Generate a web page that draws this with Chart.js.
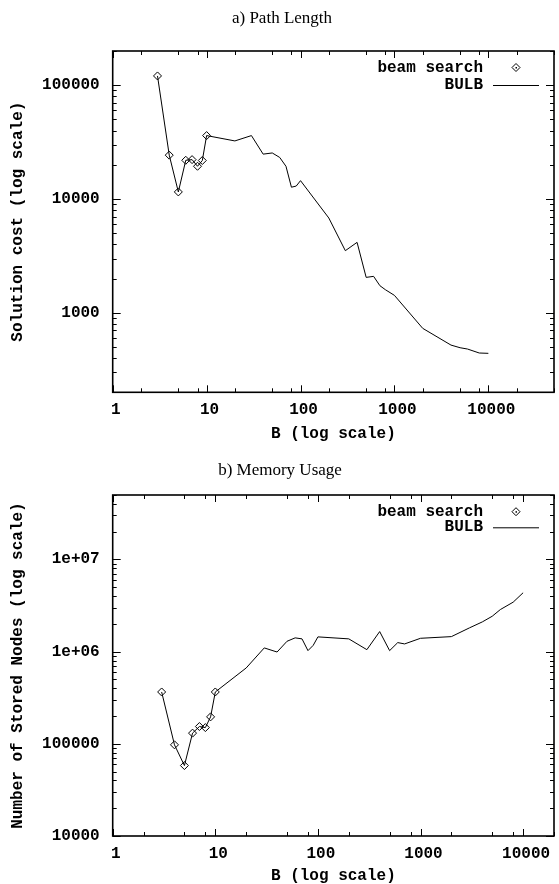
<!DOCTYPE html>
<html>
<head>
<meta charset="utf-8">
<script src="https://cdn.jsdelivr.net/npm/chart.js@4.4.0/dist/chart.umd.min.js"></script>
<style>
body { margin: 0; background: #fff; }
canvas { position: absolute; left: 0; }
</style>
</head>
<body>
<canvas id="pathChart" width="559" height="442" style="top:0px"></canvas>
<canvas id="memChart" width="559" height="442" style="top:442px"></canvas>
<script>
// beam search runs (B = 3..10)
var beamB = [3, 4, 5, 6, 7, 8, 9, 10]
var beamCost = [120700, 24300, 11540, 21900, 22200, 19400, 21800, 36100]
var beamNodes = [365000, 97500, 58100, 130600, 154000, 150000, 196000, 365000]

// BULB, path length
var bulbCostB = [3, 4, 5, 6, 7, 8, 9, 10, 20, 30, 40, 50, 60, 70, 80, 90, 100, 200, 300, 400, 500, 600, 700, 800, 1000, 2000, 4000, 5000, 6000, 8000, 10000]
var bulbCost = [120700, 24300, 11540, 21900, 22200, 19400, 21800, 36100, 32400, 36100, 24800, 25400, 23200, 19400, 12700, 13000, 14500, 6810, 3515, 4160, 2047, 2090, 1730, 1596, 1422, 730, 520, 493, 480, 443, 440]

// BULB, memory usage
var bulbNodesB = [3, 4, 5, 6, 7, 8, 9, 10, 20, 30, 40, 50, 60, 70, 80, 90, 100, 200, 300, 400, 500, 600, 700, 1000, 2000, 3000, 4000, 5000, 6000, 8000, 10000]
var bulbNodes = [365000, 97500, 58100, 130600, 154000, 150000, 196000, 365000, 665000, 1097000, 990000, 1295000, 1410000, 1375000, 1025000, 1170000, 1445000, 1375000, 1050000, 1650000, 1025000, 1253000, 1212000, 1395000, 1455000, 1810000, 2100000, 2420000, 2860000, 3440000, 4350000]

// tick labels
var xTicks = [1, 10, 100, 1000, 10000]
var xTickLabels = ['1', '10', '100', '1000', '10000']
var costTicks = [1000, 10000, 100000]
var costTickLabels = ['1000', '10000', '100000']
var nodeTicks = [10000, 100000, 1000000, 10000000]
var nodeTickLabels = ['10000', '100000', '1e+06', '1e+07']

var monoFont = { family: '"Liberation Mono", "Courier New", monospace', size: 16, weight: 'bold' }

function toPoints(xs, ys) {
    return xs.map(function (x, i) { return { x: x, y: ys[i] } })
}

// frame with inward ticks, title and legend like the gnuplot original
var gnuFrame = {
    id: 'gnuFrame',
    afterDraw: function (chart, args, opts) {
        var ctx = chart.ctx, a = chart.chartArea
        var xs = chart.scales.x, ys = chart.scales.y
        ctx.save()
        ctx.strokeStyle = '#000'
        ctx.lineWidth = 1
        ctx.beginPath()
        var e, m, v, p, len
        for (e = 0; e <= 5; e++) {
            for (m = 1; m <= 9; m++) {
                if (m != 1 && m != 2 && m != 5 && m != 8) continue
                v = m * Math.pow(10, e)
                if (v < xs.min || v > xs.max) continue
                p = Math.round(xs.getPixelForValue(v)) + 0.5
                len = m == 1 ? 7 : 4
                ctx.moveTo(p, a.bottom); ctx.lineTo(p, a.bottom - len)
                ctx.moveTo(p, a.top); ctx.lineTo(p, a.top + len)
            }
        }
        for (e = 2; e <= 8; e++) {
            for (m = 1; m <= 9; m++) {
                v = m * Math.pow(10, e)
                if (v < ys.min || v > ys.max) continue
                p = Math.round(ys.getPixelForValue(v)) + 0.5
                len = m == 1 ? 8 : 4
                ctx.moveTo(a.left, p); ctx.lineTo(a.left + len, p)
                ctx.moveTo(a.right, p); ctx.lineTo(a.right - len, p)
            }
        }
        ctx.stroke()
        ctx.lineWidth = 1.6
        ctx.strokeRect(a.left, a.top, a.right - a.left, a.bottom - a.top)

        // title
        ctx.fillStyle = '#000'
        ctx.font = '17px "Liberation Serif", "Times New Roman", serif'
        ctx.textAlign = 'center'
        ctx.textBaseline = 'alphabetic'
        ctx.fillText(opts.title, opts.titleX, opts.titleY)

        // legend
        ctx.font = 'bold 16px "Liberation Mono", "Courier New", monospace'
        ctx.textAlign = 'right'
        ctx.textBaseline = 'middle'
        var y1 = a.top + opts.legendY[0], y2 = a.top + opts.legendY[1]
        ctx.fillText('beam search', 483, y1)
        ctx.fillText('BULB', 483, y2)
        ctx.lineWidth = 1
        ctx.beginPath()
        ctx.moveTo(516, y1 - 4); ctx.lineTo(520, y1); ctx.lineTo(516, y1 + 4); ctx.lineTo(512, y1); ctx.closePath()
        ctx.stroke()
        ctx.fillRect(515.5, y1 - 0.5, 1.5, 1.5)
        ctx.beginPath()
        ctx.moveTo(493, y2 + 0.5); ctx.lineTo(539, y2 + 0.5)
        ctx.stroke()
        ctx.restore()
    }
}

function makeChart(id, beamY, bulbX, bulbY, cfg) {
    new Chart(document.getElementById(id), {
        type: 'line',
        data: {
            datasets: [
                {
                    label: 'beam search',
                    data: toPoints(beamB, beamY),
                    showLine: false,
                    pointStyle: 'rectRot',
                    pointRadius: 4,
                    pointBorderWidth: 1,
                    pointBorderColor: '#000',
                    pointBackgroundColor: 'rgba(0,0,0,0)'
                },
                {
                    label: 'BULB',
                    data: toPoints(bulbX, bulbY),
                    borderColor: '#000',
                    borderWidth: 1,
                    pointRadius: 0,
                    tension: 0
                }
            ]
        },
        options: {
            responsive: false,
            animation: false,
            layout: { padding: { top: cfg.top, right: cfg.right, bottom: 0, left: 0 } },
            plugins: {
                legend: { display: false },
                tooltip: { enabled: false },
                gnuFrame: { title: cfg.title, titleX: cfg.titleX, titleY: cfg.titleY, legendY: cfg.legendY }
            },
            scales: {
                x: {
                    type: 'logarithmic',
                    min: 1,
                    max: cfg.xMax,
                    grid: { display: false },
                    border: { display: false },
                    afterBuildTicks: function (s) { s.ticks = xTicks.map(function (v) { return { value: v } }) },
                    afterFit: function (s) { s.height = cfg.xHeight },
                    ticks: {
                        font: monoFont,
                        color: '#000',
                        padding: cfg.xPad,
                        labelOffset: 3,
                        maxRotation: 0,
                        autoSkip: false,
                        callback: function (v, i) { return xTickLabels[i] }
                    },
                    title: {
                        display: true,
                        text: 'B (log scale)',
                        color: '#000',
                        font: { family: monoFont.family, size: 16, weight: 'bold', lineHeight: 1 },
                        padding: 0
                    }
                },
                y: {
                    type: 'logarithmic',
                    min: cfg.yMin,
                    max: cfg.yMax,
                    grid: { display: false },
                    border: { display: false },
                    afterBuildTicks: function (s) { s.ticks = cfg.yTicks.map(function (v) { return { value: v } }) },
                    afterFit: function (s) { s.width = 112.7 },
                    ticks: {
                        font: monoFont,
                        color: '#000',
                        padding: 5,
                        autoSkip: false,
                        callback: function (v, i) { return cfg.yLabels[i] }
                    },
                    title: {
                        display: true,
                        text: cfg.yTitle,
                        color: '#000',
                        font: { family: monoFont.family, size: 16, weight: 'bold', lineHeight: 1 },
                        padding: { top: 10, bottom: 0 }
                    }
                }
            }
        },
        plugins: [gnuFrame]
    })
}

makeChart('pathChart', beamCost, bulbCostB, bulbCost, {
    top: 51, right: 1, xHeight: 49.7, xPad: 0, xMax: 50000,
    yMin: 200, yMax: 200000, yTicks: costTicks, yLabels: costTickLabels,
    yTitle: 'Solution cost (log scale)',
    title: 'a) Path Length', titleX: 282, titleY: 23, legendY: [16.5, 34]
})

makeChart('memChart', beamNodes, bulbNodesB, bulbNodes, {
    top: 53, right: 2, xHeight: 48, xPad: 0, xMax: 20000,
    yMin: 10000, yMax: 50000000, yTicks: nodeTicks, yLabels: nodeTickLabels,
    yTitle: 'Number of Stored Nodes (log scale)',
    title: 'b) Memory Usage', titleX: 280, titleY: 33, legendY: [16.7, 32.3]
})
</script>
</body>
</html>
